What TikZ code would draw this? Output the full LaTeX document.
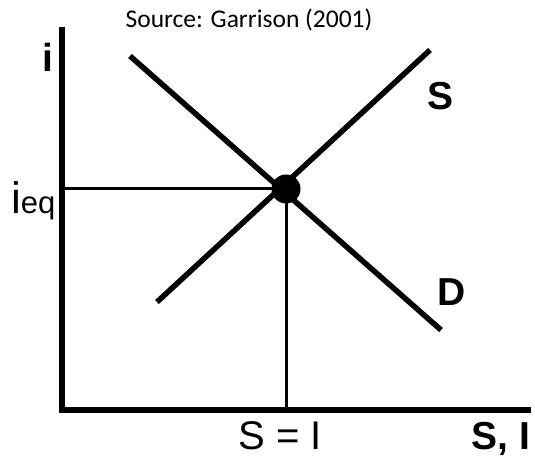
\documentclass[tikz,border=0pt]{standalone}
\usepackage{fontspec}
\setmainfont{Liberation Sans}
\newfontfamily\srcfont{Carlito}
\begin{document}
\begin{tikzpicture}[x=1pt,y=-1pt,
  axis/.style={line width=6.5pt, line join=miter},
  curve/.style={line width=5.5pt},
  guide/.style={line width=3pt},
  lbl/.style={font=\fontsize{39}{42}\selectfont\bfseries, inner sep=0pt},
  plain/.style={font=\fontsize{40}{42}\selectfont, inner sep=0pt}]
\useasboundingbox (0,0) rectangle (535,457);
% axes
\coordinate (ytop) at (62,27);
\coordinate (O) at (62,410);
\coordinate (xend) at (531,410);
\draw[axis] (ytop) -- (O) -- (xend);
% curves
\coordinate (d1) at (130,56);
\coordinate (d2) at (441,330);
\coordinate (s1) at (157,302);
\coordinate (s2) at (430,50);
\draw[curve] (d1) -- (d2);
\draw[curve] (s1) -- (s2);
% equilibrium
\node[circle, fill=black, minimum size=29pt, inner sep=0pt] (eq) at (286,189) {};
\draw[guide] (eq.center) -- (eq.center -| O);
\draw[guide] (eq.center) -- (eq.center |- O);
% labels
\node[lbl, anchor=base] (ilab) at (47.5,72) {i};
\node[lbl, anchor=base] (slab) at (440.5,110) {S};
\node[lbl, anchor=base] (dlab) at (451.5,305) {D};
\node[lbl, anchor=base] (silab) at (501,449) {S, I};
\node[plain, anchor=base] (selab) at (280,449) {S = I};
\node[inner sep=0pt, anchor=base west] (ieq) at (11,213)
  {\fontsize{44}{46}\selectfont i\fontsize{31}{32}\selectfont eq};
\node[font=\srcfont\fontsize{25.5}{28}\selectfont, inner sep=0pt, anchor=base] (src) at (249,28) {Source: Garrison (2001)};
\end{tikzpicture}
\end{document}
